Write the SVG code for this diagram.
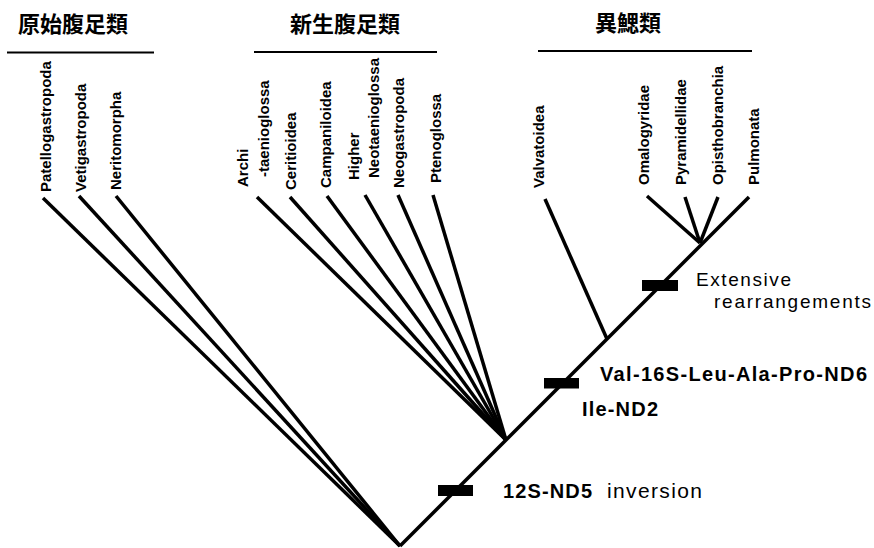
<svg xmlns="http://www.w3.org/2000/svg" width="874" height="548" viewBox="0 0 874 548">
<style>
.hdr{font-family:"Noto Sans CJK JP","Noto Sans CJK SC",sans-serif;font-weight:bold;font-size:22px;text-anchor:middle;fill:#000}
.tax{font-family:"Liberation Sans",Arial,sans-serif;font-weight:bold;font-size:15px;fill:#000}
.evb{font-family:"Liberation Sans",Arial,sans-serif;font-weight:bold;font-size:20px;fill:#000}
.evr{font-family:"Liberation Sans",Arial,sans-serif;font-size:21px;fill:#000}
.evs{font-family:"Liberation Sans",Arial,sans-serif;font-size:19px;fill:#000}
.br{stroke:#000;stroke-width:3.5;fill:none;stroke-linecap:butt}
.ul{stroke:#000;stroke-width:1.8}
.bar{fill:#000}
</style>
<rect width="874" height="548" fill="#fff"/>

<g id="group-protobranch">
<text class="hdr" x="73" y="32">原始腹足類</text>
<line class="ul" x1="7" y1="52.5" x2="154" y2="52.5"/>
</g>
<g id="group-caeno">
<text class="hdr" x="345" y="32">新生腹足類</text>
<line class="ul" x1="254" y1="52" x2="437" y2="52"/>
</g>
<g id="group-hetero">
<text class="hdr" x="628" y="31">異鰓類</text>
<line class="ul" x1="538" y1="51" x2="752" y2="51"/>
</g>

<g id="taxon-patellogastropoda"><text class="tax" transform="translate(50.8,192) rotate(-90)">Patellogastropoda</text></g>
<g id="taxon-vetigastropoda"><text class="tax" transform="translate(85.8,192) rotate(-90)">Vetigastropoda</text></g>
<g id="taxon-neritomorpha"><text class="tax" transform="translate(120.8,190) rotate(-90)">Neritomorpha</text></g>
<g id="taxon-architaenioglossa">
<text class="tax" transform="translate(247.8,187) rotate(-90)">Archi</text>
<text class="tax" transform="translate(268.8,177) rotate(-90)">-taenioglossa</text>
</g>
<g id="taxon-ceritioidea"><text class="tax" transform="translate(295.8,190) rotate(-90)">Ceritioidea</text></g>
<g id="taxon-campaniloidea"><text class="tax" transform="translate(330.8,188) rotate(-90)">Campaniloidea</text></g>
<g id="taxon-higher-neotaenioglossa">
<text class="tax" transform="translate(358.8,180) rotate(-90)">Higher</text>
<text class="tax" transform="translate(378.8,178) rotate(-90)">Neotaenioglossa</text>
</g>
<g id="taxon-neogastropoda"><text class="tax" transform="translate(403.8,188) rotate(-90)">Neogastropoda</text></g>
<g id="taxon-ptenoglossa"><text class="tax" transform="translate(440.8,183) rotate(-90)">Ptenoglossa</text></g>
<g id="taxon-valvatoidea"><text class="tax" transform="translate(543.8,188) rotate(-90)">Valvatoidea</text></g>
<g id="taxon-omalogyridae"><text class="tax" transform="translate(648.8,185) rotate(-90)">Omalogyridae</text></g>
<g id="taxon-pyramidellidae"><text class="tax" transform="translate(685.8,185) rotate(-90)">Pyramidellidae</text></g>
<g id="taxon-opisthobranchia"><text class="tax" transform="translate(722.8,185) rotate(-90)">Opisthobranchia</text></g>
<g id="taxon-pulmonata"><text class="tax" transform="translate(758.8,185) rotate(-90)">Pulmonata</text></g>

<g id="connectors">
<line class="br" x1="400" y1="546" x2="749" y2="197"/>
<line class="br" x1="400" y1="546" x2="43" y2="198"/>
<line class="br" x1="400" y1="546" x2="79" y2="196"/>
<line class="br" x1="400" y1="546" x2="116" y2="196"/>
<line class="br" x1="506" y1="440" x2="257" y2="197"/>
<line class="br" x1="506" y1="440" x2="290" y2="197"/>
<line class="br" x1="506" y1="440" x2="327" y2="196"/>
<line class="br" x1="506" y1="440" x2="365" y2="195"/>
<line class="br" x1="506" y1="440" x2="398" y2="195"/>
<line class="br" x1="506" y1="440" x2="433" y2="195"/>
<line class="br" x1="607" y1="339" x2="545" y2="199"/>
<line class="br" x1="700" y1="243" x2="647" y2="196"/>
<line class="br" x1="700" y1="243" x2="685" y2="197"/>
<line class="br" x1="700" y1="243" x2="718" y2="197"/>
</g>

<g id="event-12s-nd5">
<rect class="bar" x="438" y="485" width="35" height="11"/>
<text class="evb" x="503" y="498" textLength="89" lengthAdjust="spacing">12S-ND5</text>
<text class="evr" x="607" y="498" textLength="95" lengthAdjust="spacing">inversion</text>
</g>
<g id="event-val-ile">
<rect class="bar" x="544" y="378" width="35" height="10.5"/>
<text class="evb" x="600" y="381" textLength="267" lengthAdjust="spacing">Val-16S-Leu-Ala-Pro-ND6</text>
<text class="evb" x="582" y="416" textLength="76" lengthAdjust="spacing">Ile-ND2</text>
</g>
<g id="event-extensive">
<rect class="bar" x="642" y="280" width="36" height="11"/>
<text class="evs" x="696" y="286" textLength="95" lengthAdjust="spacing">Extensive</text>
<text class="evs" x="714" y="308" textLength="157" lengthAdjust="spacing">rearrangements</text>
</g>
</svg>
